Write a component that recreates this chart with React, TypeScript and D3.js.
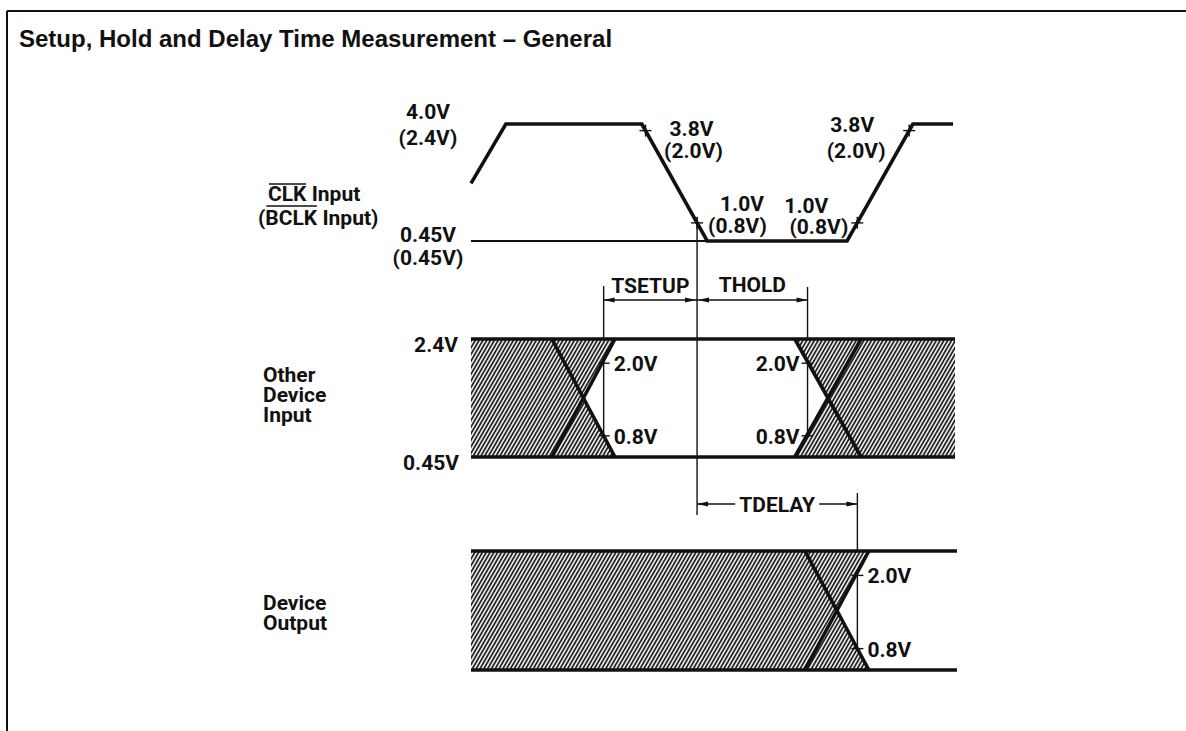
import React, { useLayoutEffect, useRef, useState } from "react";
import * as d3 from "d3";

const W = 1186;
const H = 731;

// time axis in arbitrary units, 0..100 across the waveform area
const clkTimes = [0, 7.2, 35.3, 48.8, 77.7, 91.3, 99.6];
const clkVolts = [2.2, 4.0, 4.0, 0.45, 0.45, 4.0, 4.0];
const clkMarkLevels = [3.8, 1.0];
const clkRailLabels = [["4.0V", "(2.4V)"], ["0.45V", "(0.45V)"]];
const clkEdgeLabels = [["3.8V", "(2.0V)"], ["1.0V", "(0.8V)"], ["1.0V", "(0.8V)"], ["3.8V", "(2.0V)"]];

const inputTransitions = [[16.7, 29.75], [66.9, 80.6]];
const outputTransitions = [[69.0, 82.2]];
const railLevels = [2.4, 0.45];
const thresholdLevels = [2.0, 0.8];

const x = d3.scaleLinear().domain([0, 100]).range([471, 955]);
const clkY = d3.scaleLinear().domain([0.45, 4.0]).range([241, 124]);
const inY = d3.scaleLinear().domain([0.45, 2.4]).range([457, 339]);
const outY = d3.scaleLinear().domain([0.45, 2.4]).range([670, 551]);

const LABEL_FONT = "Roboto, 'DejaVu Sans', sans-serif";

// time where a straight edge crosses level v
const crossAt = (t0: number, v0: number, t1: number, v1: number, v: number) =>
  t0 + ((v - v0) / (v1 - v0)) * (t1 - t0);

// crossings of the clock waveform at the measuring levels, per edge
const clkEdges: { t: number; v: number }[] = [];
for (let i = 1; i < clkTimes.length - 1; i++) {
  const v0 = clkVolts[i], v1 = clkVolts[i + 1];
  if (v0 === v1) continue;
  const levels = v1 < v0 ? clkMarkLevels : [...clkMarkLevels].reverse();
  levels.forEach((v) => clkEdges.push({ t: crossAt(clkTimes[i], v0, clkTimes[i + 1], v1, v), v }));
}
const tRef = clkEdges[1].t; // 1.0V on the falling edge

const [hi, lo] = railLevels;
const [th2, th08] = thresholdLevels;
const edgeCross = ([a, b]: number[]) => [
  crossAt(a, lo, b, hi, th2), // rising edge at 2.0V
  crossAt(a, hi, b, lo, th08), // falling edge at 0.8V
  crossAt(a, hi, b, lo, th2), // falling edge at 2.0V
  crossAt(a, lo, b, hi, th08), // rising edge at 0.8V
];
const s = edgeCross(inputTransitions[0]);
const tSetup = Math.max(s[0], s[1]);
const h = edgeCross(inputTransitions[1]);
const tHold = (h[2] + h[3]) / 2;
const o = edgeCross(outputTransitions[0]);
const tDelay = Math.max(o[0], o[1]);

const Label = ({ x, y, anchor = "start", children }: any) => (
  <text x={x} y={y} textAnchor={anchor} fontFamily={LABEL_FONT} fontWeight="bold" fontSize={21} fill="#111">
    {children}
  </text>
);

const arrowHead = (tx: number, ty: number, dir: number) =>
  `M${tx},${ty}L${tx - dir * 11},${ty - 2.6}L${tx - dir * 11},${ty + 2.6}Z`;

const hatchLeft = (tr: number[], y: any) => {
  const mid = (tr[0] + tr[1]) / 2;
  return [[0, hi], [tr[1], hi], [mid, (hi + lo) / 2], [tr[1], lo], [0, lo]].map(
    ([t, v]) => [x(t), y(v)] as [number, number]
  );
};
const hatchRight = (tr: number[], y: any) => {
  const mid = (tr[0] + tr[1]) / 2;
  return [[tr[0], hi], [100, hi], [100, lo], [tr[0], lo], [mid, (hi + lo) / 2]].map(
    ([t, v]) => [x(t), y(v)] as [number, number]
  );
};

const App = () => {
  const clkRef = useRef<SVGTSpanElement>(null);
  const bclkRef = useRef<SVGTSpanElement>(null);
  const [bars, setBars] = useState<number[][]>([]);

  // overline spans for CLK / BCLK
  useLayoutEffect(() => {
    const spans = [clkRef.current, bclkRef.current];
    setBars(
      spans.map((el) => {
        const b = el!.getBoundingClientRect();
        return [b.left + 1, b.right - 1];
      })
    );
  }, []);

  const clkLine = d3
    .line<number>()
    .x((_, i) => x(clkTimes[i]))
    .y((v) => clkY(v))(clkVolts) as string;
  const poly = d3.line().curve(d3.curveLinearClosed);

  const ink = "#111";
  const thick = 3.6;
  const thin = 1.4;

  const xRef = x(tRef), xSet = x(tSetup), xHold = x(tHold), xDel = x(tDelay);
  const dimY = 300;
  const delY = 504;
  const barY = [184, 206];

  const xEdge = (tr: number[], y: any, k: number) => (
    <g key={k}>
      <line x1={x(tr[0])} y1={y(hi)} x2={x(tr[1])} y2={y(lo)} stroke={ink} strokeWidth={thick} />
      <line x1={x(tr[0])} y1={y(lo)} x2={x(tr[1])} y2={y(hi)} stroke={ink} strokeWidth={thick} />
    </g>
  );

  return (
    <svg width={W} height={H} style={{ position: "absolute", left: 0, top: 0, background: "#fff" }}>
      <defs>
        <pattern id="hatch" patternUnits="userSpaceOnUse" width={3.3} height={10} patternTransform="rotate(30)">
          <rect width={3.3} height={10} fill="#fff" />
          <line x1={1} y1={0} x2={1} y2={10} stroke={ink} strokeWidth={1.7} />
        </pattern>
      </defs>

      {/* frame */}
      <line x1={7} y1={11} x2={W} y2={11} stroke={ink} strokeWidth={2} />
      <line x1={7} y1={11} x2={7} y2={H} stroke={ink} strokeWidth={2} />
      <text x={19} y={47} fontFamily="'Liberation Sans', Arial, sans-serif" fontWeight="bold" fontSize={24} fill={ink}>
        Setup, Hold and Delay Time Measurement – General
      </text>

      {/* CLK input */}
      <Label x={268} y={201}>
        <tspan ref={clkRef}>CLK</tspan> Input
      </Label>
      <Label x={258} y={225}>
        (<tspan ref={bclkRef}>BCLK</tspan> Input)
      </Label>
      {bars.map(([a, b], i) => (
        <line key={i} x1={a} y1={barY[i]} x2={b} y2={barY[i]} stroke={ink} strokeWidth={1.6} />
      ))}
      {clkRailLabels.map((pair, i) => (
        <g key={i}>
          <Label x={428} y={clkY(i === 0 ? 4.0 : 0.45) + (i === 0 ? -5 : 1)} anchor="middle">{pair[0]}</Label>
          <Label x={428} y={clkY(i === 0 ? 4.0 : 0.45) + (i === 0 ? 21 : 24)} anchor="middle">{pair[1]}</Label>
        </g>
      ))}
      <line x1={x(0)} y1={clkY(0.45)} x2={x(clkTimes[3])} y2={clkY(0.45)} stroke={ink} strokeWidth={thin + 0.4} />
      <path d={clkLine} fill="none" stroke={ink} strokeWidth={thick} strokeLinejoin="miter" />
      {clkEdges.map((e, i) => (
        <g key={i} stroke={ink} strokeWidth={thin}>
          <line x1={x(e.t) - 6} y1={clkY(e.v)} x2={x(e.t) + 6} y2={clkY(e.v)} />
          <line x1={x(e.t)} y1={clkY(e.v) - 6} x2={x(e.t)} y2={clkY(e.v) + 6} />
        </g>
      ))}
      {/* edge labels */}
      <Label x={x(clkEdges[0].t) + 46} y={clkY(3.8) + 5} anchor="middle">{clkEdgeLabels[0][0]}</Label>
      <Label x={x(clkEdges[0].t) + 48} y={clkY(3.8) + 27} anchor="middle">{clkEdgeLabels[0][1]}</Label>
      <Label x={x(clkEdges[1].t) + 23} y={clkY(1.0) - 12}>{clkEdgeLabels[1][0]}</Label>
      <Label x={x(clkEdges[1].t) + 11} y={clkY(1.0) + 10}>{clkEdgeLabels[1][1]}</Label>
      <Label x={x(clkEdges[2].t) - 29} y={clkY(1.0) - 10} anchor="end">{clkEdgeLabels[2][0]}</Label>
      <Label x={x(clkEdges[2].t) - 9} y={clkY(1.0) + 11} anchor="end">{clkEdgeLabels[2][1]}</Label>
      <Label x={x(clkEdges[3].t) - 57} y={clkY(3.8) + 1} anchor="middle">{clkEdgeLabels[3][0]}</Label>
      <Label x={x(clkEdges[3].t) - 53} y={clkY(3.8) + 27} anchor="middle">{clkEdgeLabels[3][1]}</Label>

      {/* reference and dimension lines */}
      <g stroke={ink} strokeWidth={thin} fill="none">
        <line x1={xRef} y1={clkY(1.0) - 5} x2={xRef} y2={delY + 11} />
        <line x1={xSet} y1={dimY - 14} x2={xSet} y2={inY(0.8) + 4} />
        <line x1={xHold} y1={dimY - 13} x2={xHold} y2={inY(0.8) + 4} />
        <line x1={xDel} y1={delY - 11} x2={xDel} y2={outY(0.8) + 3} />
        <line x1={xSet} y1={dimY} x2={xHold} y2={dimY} />
        <line x1={xRef} y1={delY} x2={(xRef + xDel) / 2 - 42} y2={delY} />
        <line x1={(xRef + xDel) / 2 + 42} y1={delY} x2={xDel} y2={delY} />
      </g>
      <g fill={ink}>
        <path d={arrowHead(xSet, dimY, -1)} />
        <path d={arrowHead(xRef - 1, dimY, 1)} />
        <path d={arrowHead(xRef + 1, dimY, -1)} />
        <path d={arrowHead(xHold, dimY, 1)} />
        <path d={arrowHead(xRef, delY, -1)} />
        <path d={arrowHead(xDel, delY, 1)} />
      </g>
      <Label x={(xSet + xRef) / 2} y={dimY - 7} anchor="middle">TSETUP</Label>
      <Label x={(xRef + xHold) / 2} y={dimY - 8} anchor="middle">THOLD</Label>
      <Label x={(xRef + xDel) / 2} y={delY + 8} anchor="middle">TDELAY</Label>

      {/* other device input */}
      <Label x={263} y={382}>Other</Label>
      <Label x={263} y={402}>Device</Label>
      <Label x={263} y={422}>Input</Label>
      <Label x={458} y={inY(2.4) + 13} anchor="end">2.4V</Label>
      <Label x={459} y={inY(0.45) + 13} anchor="end">0.45V</Label>
      <path d={poly(hatchLeft(inputTransitions[0], inY)) as string} fill="url(#hatch)" />
      <path d={poly(hatchRight(inputTransitions[1], inY)) as string} fill="url(#hatch)" />
      {railLevels.map((v) => (
        <line key={v} x1={x(0)} y1={inY(v)} x2={x(100)} y2={inY(v)} stroke={ink} strokeWidth={thick} />
      ))}
      {inputTransitions.map((tr, i) => xEdge(tr, inY, i))}
      {thresholdLevels.map((v) => (
        <g key={v}>
          <line x1={xSet - 5} y1={inY(v)} x2={xSet + 6} y2={inY(v)} stroke={ink} strokeWidth={thin} />
          <line x1={xHold - 6} y1={inY(v)} x2={xHold + 5} y2={inY(v)} stroke={ink} strokeWidth={thin} />
          <Label x={xSet + 10} y={inY(v) + 8}>{v.toFixed(1) + "V"}</Label>
          <Label x={xHold - 8} y={inY(v) + 8} anchor="end">{v.toFixed(1) + "V"}</Label>
        </g>
      ))}

      {/* device output */}
      <Label x={263} y={610}>Device</Label>
      <Label x={263} y={630}>Output</Label>
      <path d={poly(hatchLeft(outputTransitions[0], outY)) as string} fill="url(#hatch)" />
      {railLevels.map((v) => (
        <line key={v} x1={x(0)} y1={outY(v)} x2={x(100) + 2} y2={outY(v)} stroke={ink} strokeWidth={thick} />
      ))}
      {outputTransitions.map((tr, i) => xEdge(tr, outY, i))}
      {thresholdLevels.map((v) => (
        <g key={v}>
          <line x1={xDel - 6} y1={outY(v)} x2={xDel + 6} y2={outY(v)} stroke={ink} strokeWidth={thin} />
          <Label x={xDel + 10} y={outY(v) + 8}>{v.toFixed(1) + "V"}</Label>
        </g>
      ))}
    </svg>
  );
};

export default App;
